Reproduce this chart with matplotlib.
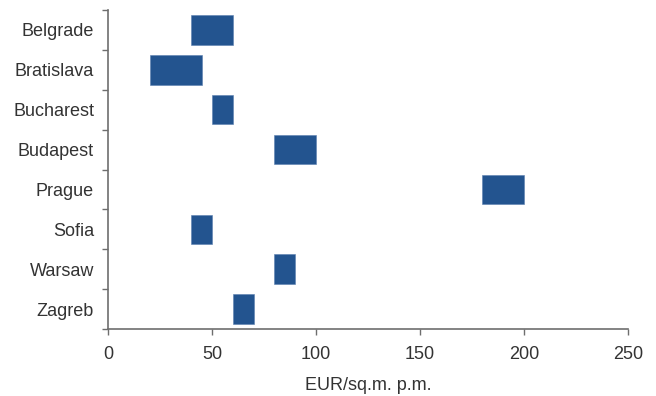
import numpy as np
import matplotlib.pyplot as plt

plt.rcParams['font.family'] = ['Liberation Sans', 'DejaVu Sans']

cities = ['Belgrade', 'Bratislava', 'Bucharest', 'Budapest',
          'Prague', 'Sofia', 'Warsaw', 'Zagreb']
low = [40, 20, 50, 80, 180, 40, 80, 60]
high = [60, 45, 60, 100, 200, 50, 90, 70]

bar_color = '#23548f'
axis_color = '#6e6e6e'
text_color = '#333333'

fig = plt.figure(figsize=(6.56, 3.96), dpi=100)
ax = fig.add_axes([108 / 656, 1 - 329 / 396, 520 / 656, 319 / 396])

y = np.arange(len(cities))
widths = np.array(high) - np.array(low)
ax.barh(y, widths, left=low, height=0.74, color=bar_color,
        edgecolor='#5b7fb0', linewidth=0.4)

ax.set_xlim(0, 250)
ax.set_ylim(len(cities) - 0.5, -0.5)
ax.set_xticks([0, 50, 100, 150, 200, 250])
ax.set_yticks(y)
ax.set_yticklabels(cities)
ax.set_yticks(np.arange(len(cities) + 1) - 0.5, minor=True)

ax.tick_params(axis='y', which='major', length=0, pad=10,
               labelsize=13, labelcolor=text_color)
ax.tick_params(axis='y', which='minor', length=4, width=1, color=axis_color)
ax.tick_params(axis='x', length=4, width=1, color=axis_color, pad=8,
               labelsize=13, labelcolor=text_color)

for side in ['top', 'right']:
    ax.spines[side].set_visible(False)
for side in ['left', 'bottom']:
    ax.spines[side].set_color(axis_color)
    ax.spines[side].set_linewidth(1.2)

ax.set_xlabel('EUR/sq.m. p.m.', fontsize=13, color=text_color, labelpad=10)

fig.savefig('out.png', dpi=100)
